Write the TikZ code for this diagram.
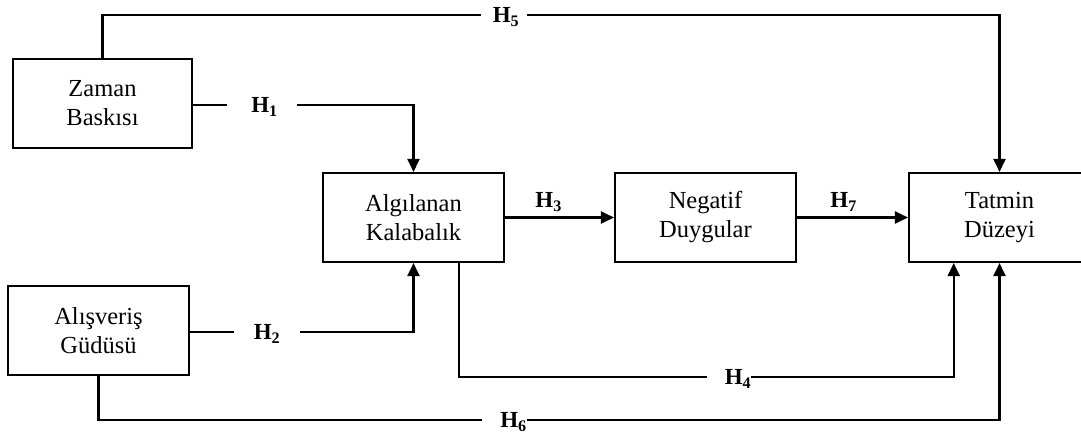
\documentclass[tikz,border=0pt]{standalone}
\usepackage{fontspec}
\setmainfont{Liberation Serif}
\usetikzlibrary{arrows.meta,calc}
\begin{document}
\begin{tikzpicture}[x=1pt,y=-1pt,
  box/.style={draw,line width=2.1pt,minimum width=181pt,minimum height=89pt,align=center,inner sep=0pt,font=\fontsize{24.5}{29}\selectfont},
  conn/.style={line width=2.1pt},
  arr/.style={conn,-{Triangle[length=13pt,width=12pt]}},
  hlab/.style={inner xsep=0pt,inner ysep=0pt,text height=15pt,text depth=0pt,font=\fontsize{23}{23}\selectfont\bfseries}]
\useasboundingbox (0,0) rectangle (1081,437);
\clip (0,0) rectangle (1081,437);
% boxes
\node[box,minimum width=179pt] (zaman) at (102.5,103.5) {Zaman\\Baskısı};
\node[box] (alis) at (98.5,330.5) {Alışveriş\\Güdüsü};
\node[box] (alg) at (413.5,217.5) {Algılanan\\Kalabalık};
\node[box] (neg) at (705.5,217.5) {Negatif\\Duygular};
\node[box] (tat) at (999.5,217.5) {Tatmin\\Düzeyi};
% labels
\node[hlab] (h5) at (506,15) {H\textsubscript{5}};
\node[hlab] (h1) at (264.5,105) {H\textsubscript{1}};
\node[hlab] (h2) at (267,332) {H\textsubscript{2}};
\node[hlab] (h4) at (738,377) {H\textsubscript{4}};
\node[hlab] (h6) at (513.5,420) {H\textsubscript{6}};
% H5
\draw[conn,shorten >=12pt] (zaman.north) |- (h5.west);
\draw[arr,shorten <=8pt] (h5.east) -| (tat.north);
% H1
\draw[conn,shorten >=24pt] (zaman.east |- h1) -- (h1.west);
\draw[arr,shorten <=19pt] (h1.east) -| (alg.north);
% H2
\draw[conn,shorten >=20pt] (alis.east |- h2) -- (h2.west);
\draw[arr,shorten <=20pt] (h2.east) -| (alg.south);
% H3, H7
\draw[arr] (alg) -- node[hlab,above=8.5pt,pos=0.4] (h3) {H\textsubscript{3}} (neg);
\draw[arr] (neg) -- node[hlab,above=8.5pt,pos=0.42] (h7) {H\textsubscript{7}} (tat);
% H4
\draw[conn,shorten >=18pt] ($(alg.south)!0.5!(alg.south east)$) |- (h4.west);
\draw[arr] (h4.east) -| ($(tat.south west)!0.5!(tat.south)$);
% H6
\draw[conn,shorten >=18pt] (alis.south) |- (h6.west);
\draw[arr] (h6.east) -| (tat.south);
\end{tikzpicture}
\end{document}
